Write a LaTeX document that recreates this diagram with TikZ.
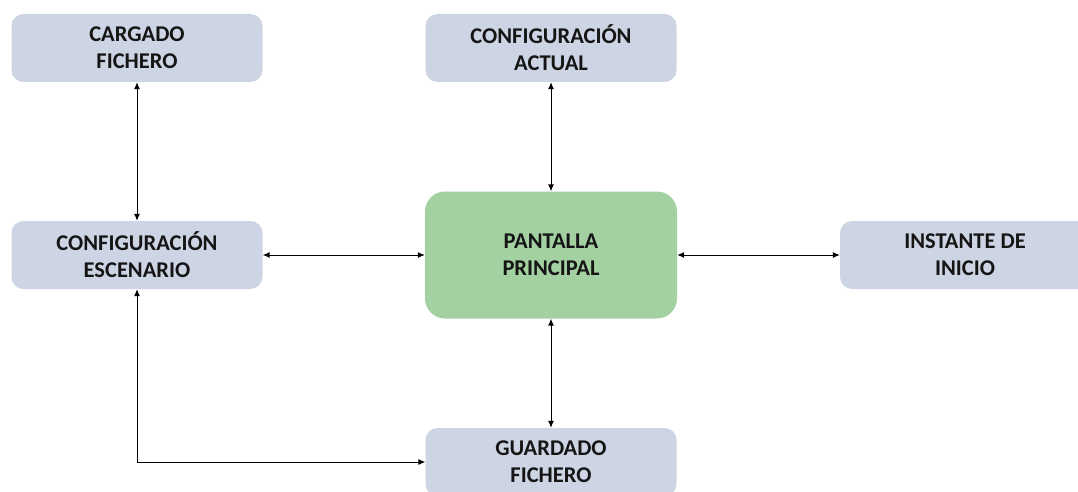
\documentclass[tikz,border=0pt]{standalone}
\usepackage{fontspec}
\setmainfont{Carlito}
\usetikzlibrary{arrows.meta}
\definecolor{boxblue}{HTML}{CDD5E4}
\definecolor{boxgreen}{HTML}{A4D1A2}
\definecolor{txt}{HTML}{151515}
\begin{document}
\begin{tikzpicture}[x=1pt,y=-1pt,
  box/.style={fill=boxblue, draw=none, rounded corners=12pt, minimum width=251pt, minimum height=68pt,
    align=center, inner sep=0pt, font=\fontsize{22.5}{27}\selectfont\bfseries, text=txt},
  mainbox/.style={box, fill=boxgreen, minimum width=252pt, minimum height=127pt, rounded corners=20pt},
  link/.style={{Latex[length=7pt,width=6pt]}-{Latex[length=7pt,width=6pt]}, line width=1pt, black}]
\clip (0,0) rectangle (1078,492);
\fill[white] (0,0) rectangle (1078,492);
\node[box] (cargado) at (137,48) {CARGADO\\FICHERO};
\node[box] (actual) at (551,48) {CONFIGURACIÓN\\ACTUAL};
\node[box] (escenario) at (137,255) {CONFIGURACIÓN\\ESCENARIO};
\node[mainbox] (pantalla) at (551,255) {PANTALLA\\PRINCIPAL};
\node[box, minimum width=250pt] (instante) at (965,255) {INSTANTE DE\\INICIO};
\node[box] (guardado) at (551,462) {GUARDADO\\FICHERO};
\draw[link] (cargado.south) -- (escenario.north);
\draw[link] (actual.south) -- (pantalla.north);
\draw[link] (escenario.east) -- (pantalla.west);
\draw[link] (pantalla.east) -- (instante.west);
\draw[link] (pantalla.south) -- (guardado.north);
\draw[link] (escenario.south) |- (guardado.west);
\end{tikzpicture}
\end{document}
